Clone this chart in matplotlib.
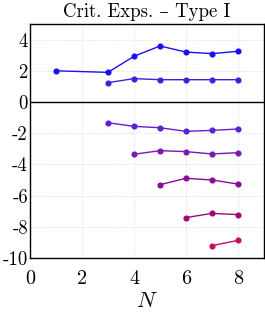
import matplotlib
matplotlib.use("Agg")
import matplotlib.pyplot as plt

plt.rcParams['font.family'] = ['cmr10', 'DejaVu Serif']
plt.rcParams['mathtext.fontset'] = 'cm'
plt.rcParams['axes.unicode_minus'] = False

title = "Crit. Exps. – Type I"
xlabel = r"$N$"

s1_x = [1, 3, 4, 5, 6, 7, 8]
s1_y = [2.0, 1.9, 2.93, 3.59, 3.2, 3.1, 3.25]
s2_x = [3, 4, 5, 6, 7, 8]
s2_y = [1.24, 1.5, 1.43, 1.43, 1.43, 1.43]
s3_x = [3, 4, 5, 6, 7, 8]
s3_y = [-1.33, -1.56, -1.65, -1.88, -1.82, -1.73]
s4_x = [4, 5, 6, 7, 8]
s4_y = [-3.35, -3.12, -3.18, -3.33, -3.25]
s5_x = [5, 6, 7, 8]
s5_y = [-5.3, -4.89, -5.0, -5.26]
s6_x = [6, 7, 8]
s6_y = [-7.41, -7.14, -7.22]
s7_x = [7, 8]
s7_y = [-9.21, -8.87]

series = [(s1_x, s1_y), (s2_x, s2_y), (s3_x, s3_y), (s4_x, s4_y),
          (s5_x, s5_y), (s6_x, s6_y), (s7_x, s7_y)]
colors = ['#1a10f0', '#4020e0', '#6020d0', '#7818b8', '#8a0a9a', '#a00878', '#c80a5a']

fig = plt.figure(figsize=(2.65, 3.16), dpi=100)
ax = fig.add_axes([30/265, 1-258/316, 234/265, 234/316])

for (x, y), c in zip(series, colors):
    ax.plot(x, y, '-o', color=c, lw=1.0, ms=3.4)

ax.axhline(0, color='black', lw=1.0)
ax.set_xlim(0, 9)
ax.set_ylim(-10, 5)
ax.set_xticks([0, 2, 4, 6, 8])
ax.set_yticks([-10, -8, -6, -4, -2, 0, 2, 4])
ax.grid(True, color='#dddddd', ls=':', lw=0.7)
ax.tick_params(axis='y', length=0, labelsize=13.5, pad=1.5)
ax.tick_params(axis='x', length=0, labelsize=14.5, pad=9)
for sp in ax.spines.values():
    sp.set_linewidth(1.0)
ax.set_title(title, fontsize=13.5, pad=5)
ax.set_xlabel(xlabel, fontsize=16, labelpad=2)

fig.savefig("out.png", dpi=100)
